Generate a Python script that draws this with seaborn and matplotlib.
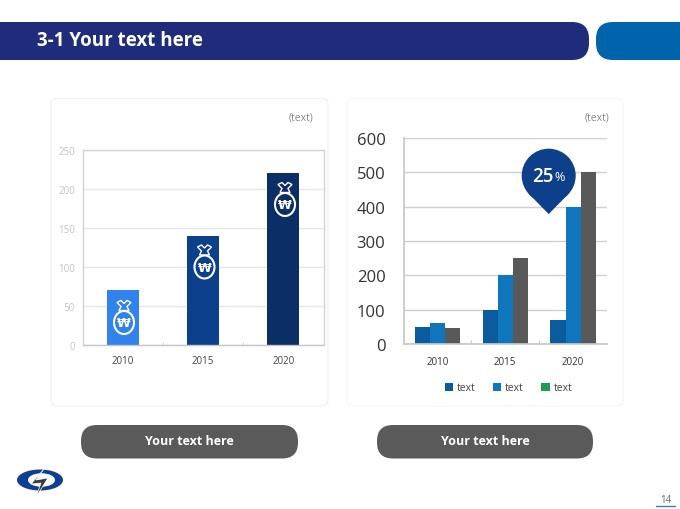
import matplotlib
matplotlib.use('Agg')
import matplotlib.pyplot as plt
from matplotlib.patches import FancyBboxPatch, Patch, Ellipse, Circle, Polygon
import pandas as pd
import seaborn as sns

years = ['2010', '2015', '2020']
left_values = [70, 140, 220]
left_colors = ['#3082ec', '#0c3f8c', '#0b2e66']
left_ticks = [0, 50, 100, 150, 200, 250]

series_names = ['a', 'b', 'c']
series_a = [50, 100, 70]
series_b = [60, 200, 400]
series_c = [47, 250, 500]
series_colors = ['#0b5c9e', '#0f75bc', '#595959']
legend_colors = ['#0b5c9e', '#0f75bc', '#1f9a5a']
right_ticks = [0, 100, 200, 300, 400, 500, 600]

W, H = 680, 510

sns.set_theme(style='white')
plt.rcParams['font.family'] = ['Open Sans', 'DejaVu Sans']

fig = plt.figure(figsize=(6.8, 5.1), dpi=100)


def px_axes(l, t, r, b, zorder):
    return fig.add_axes([l / W, 1 - b / H, (r - l) / W, (b - t) / H], zorder=zorder)


def round_box(ax, l, t, r, b, rad, face, edge='none', lw=0, z=1):
    ax.add_patch(FancyBboxPatch((l, t), r - l, b - t, boxstyle='round,pad=0,rounding_size=%s' % rad,
                                fc=face, ec=edge, lw=lw, zorder=z))


# background layer, in pixels
bg = px_axes(0, 0, W, H, 0)
bg.set_xlim(0, W)
bg.set_ylim(H - 1, -1)
bg.axis('off')
round_box(bg, -40, 22, 589, 60, 17, '#1f2b7b')
round_box(bg, 596, 22, 720, 60, 17, '#0063ac')
bg.text(37, 40, '3-1 Your text here', color='white', fontsize=13.5, fontweight='bold', va='center')
round_box(bg, 51, 98.5, 328, 406, 6, 'white', '#f1f1f1', 0.9)
round_box(bg, 347, 98.5, 623, 406, 6, 'white', '#f6f6f6', 0.9)
bg.text(313, 117, '(text)', color='#8a8a8a', fontsize=7.5, ha='right', va='center')
bg.text(609.5, 117, '(text)', color='#8a8a8a', fontsize=7.5, ha='right', va='center')
for l, r in [(81, 298), (377, 593)]:
    round_box(bg, l, 425, r, 458.5, 16, '#5a5a5a')
    bg.text((l + r) / 2, 441, 'Your text here', color='white', fontsize=9, fontweight='bold',
            ha='center', va='center')
bg.text(665.5, 499.5, '14', color='#666666', fontsize=7, ha='center', va='center')
bg.plot([656, 675], [506, 506], color='#2f7fc4', lw=1)

# logo
bg.add_patch(Ellipse((40, 480), 46, 21, fc='#0f3f92', ec='none'))
bg.add_patch(Ellipse((41.5, 480), 27, 13.5, fc='white', ec='none'))
bg.add_patch(Polygon([(44, 469), (36, 480), (48, 478), (36, 497), (41, 483), (31, 484)],
                     fc='#3a3a3a', ec='white', lw=0.5))

# left chart
ax1 = px_axes(83, 151, 323.5, 345.5, 2)
ax1.patch.set_alpha(0)
left_df = pd.DataFrame({'year': years, 'value': left_values})
sns.barplot(data=left_df, x='year', y='value', hue='year', palette=left_colors, width=0.4,
            saturation=1, legend=False, dodge=False, linewidth=0, ax=ax1)
ax1.set_xlim(-0.5, 2.5)
ax1.set_ylim(0, 250)
ax1.set_yticks(left_ticks)
ax1.set_xlabel('')
ax1.set_ylabel('')
ax1.grid(axis='y', color='#e6e6e6', lw=1)
ax1.set_axisbelow(True)
for s in ax1.spines.values():
    s.set_visible(True)
    s.set_color('#d2d2d2')
    s.set_linewidth(1)
ax1.spines['bottom'].set_color('#c4c4cc')
ax1.set_xticks([0.5, 1.5], minor=True)
ax1.tick_params(axis='x', which='minor', direction='in', length=2, width=0.6, color='#c4c4c4', bottom=True)
ax1.tick_params(axis='x', which='major', length=0, pad=7.5, labelsize=7, labelcolor='#444444')
ax1.tick_params(axis='y', length=0, pad=5.8, labelsize=7, labelcolor='#c4c4c4')

# right chart
ax2 = px_axes(403.5, 139, 607, 345, 2)
ax2.patch.set_alpha(0)
right_df = pd.DataFrame({'year': years * 3,
                         'series': [n for n in series_names for _ in years],
                         'value': series_a + series_b + series_c})
sns.barplot(data=right_df, x='year', y='value', hue='series', palette=series_colors, width=0.67,
            gap=0, saturation=1, legend=False, linewidth=0, ax=ax2)
ax2.set_xlim(-0.5, 2.5)
ax2.set_ylim(0, 600)
ax2.set_yticks(right_ticks)
ax2.set_xlabel('')
ax2.set_ylabel('')
ax2.grid(axis='y', color='#d0d0d0', lw=1)
ax2.set_axisbelow(True)
ax2.spines['top'].set_visible(False)
ax2.spines['right'].set_visible(False)
ax2.spines['left'].set_color('#c8c8c8')
ax2.spines['bottom'].set_color('#c8c8c8')
ax2.set_xticks([0.5, 1.5], minor=True)
ax2.tick_params(axis='x', which='minor', direction='in', length=3, width=0.6, color='#bbbbbb', bottom=True)
ax2.tick_params(axis='x', which='major', length=0, pad=8.5, labelsize=7, labelcolor='#333333')
ax2.tick_params(axis='y', length=0, pad=13, labelsize=12, labelcolor='#333333')
ax2.legend(handles=[Patch(fc=c, ec='none') for c in legend_colors], labels=['text', 'text', 'text'],
           ncol=3, loc='center', bbox_to_anchor=(0.515, -0.213), frameon=False, fontsize=7.5,
           labelcolor='#444444', handlelength=0.8, handleheight=0.8, handletextpad=0.35,
           columnspacing=1.7)

# foreground layer: money bags and the 25% pin
fg = px_axes(0, 0, W, H, 5)
fg.set_xlim(0, W)
fg.set_ylim(H - 1, -1)
fg.axis('off')
fg.patch.set_alpha(0)
for cx, cy in [(124, 322.5), (204.5, 267), (285, 204.5)]:
    fg.add_patch(Ellipse((cx, cy), 20, 23, fc='none', ec='white', lw=1.5))
    fg.text(cx, cy + 0.5, '\u20a9', color='white', fontsize=9, fontweight='bold',
            family='DejaVu Sans', ha='center', va='center')
    fg.add_patch(Polygon([(cx - 7, cy - 20), (cx - 3, cy - 22), (cx, cy - 19), (cx + 3, cy - 22), (cx + 7, cy - 20),
                          (cx + 3, cy - 16), (cx + 5, cy - 12), (cx - 5, cy - 12), (cx - 3, cy - 16)],
                         fc='none', ec='white', lw=1))
fg.add_patch(Circle((548.7, 175.7), 27, fc='#0d3f8a', ec='none'))
fg.add_patch(Polygon([(528.5, 193.5), (568.9, 193.5), (548.7, 214)], fc='#0d3f8a', ec='none'))
fg.text(542.5, 176, '25', color='white', fontsize=13.5, fontweight='semibold', ha='center', va='center')
fg.text(559.5, 177, '%', color='white', fontsize=9, ha='center', va='center')

fig.savefig('out.png', dpi=100)
